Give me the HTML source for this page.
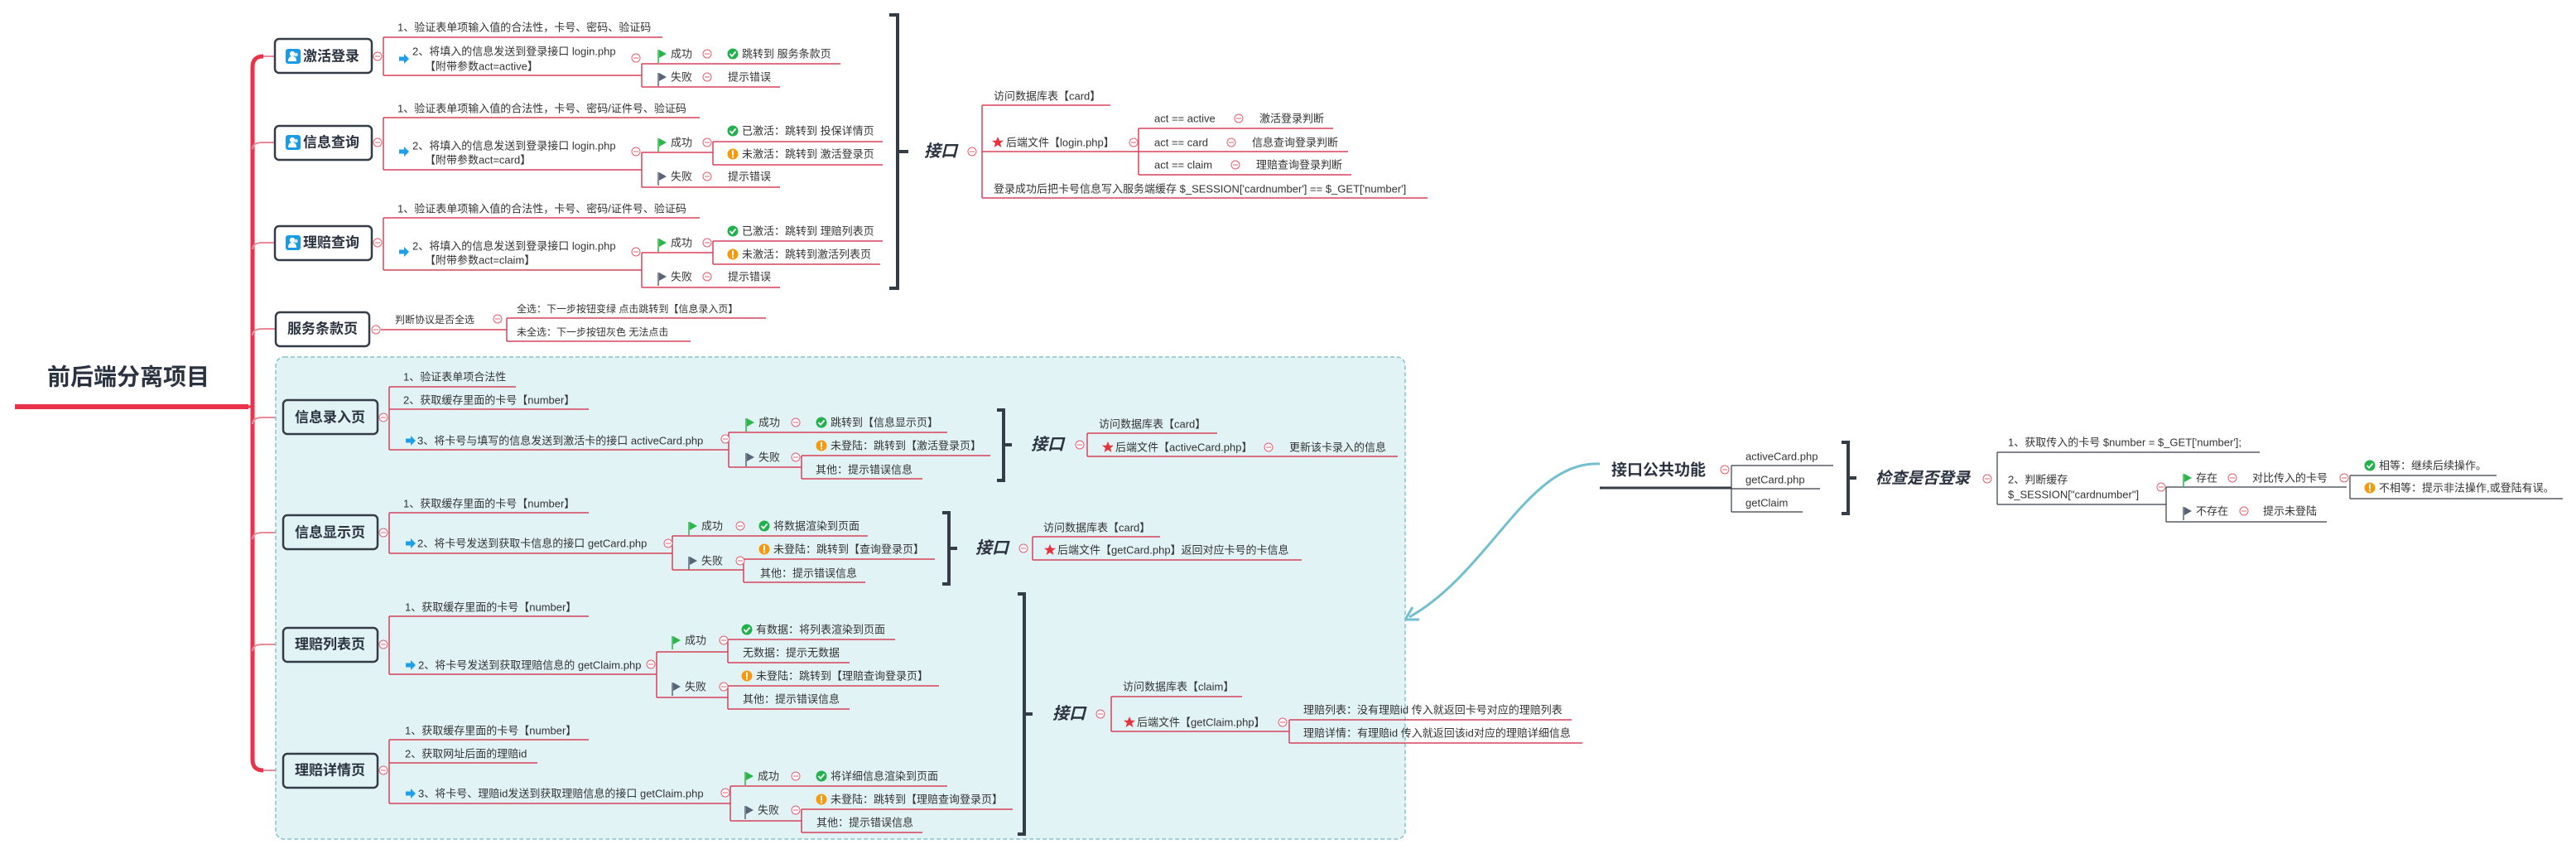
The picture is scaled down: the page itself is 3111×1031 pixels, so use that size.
<!DOCTYPE html>
<html><head><meta charset="utf-8">
<style>
html,body{margin:0;padding:0;background:#fff;}
svg{display:block;}
text{font-family:"Liberation Sans","Noto Sans CJK SC",sans-serif;fill:#333;dominant-baseline:central;}
.t{font-size:13px;}
.s{font-size:12px;}
.b{font-size:17px;font-weight:bold;fill:#2b3340;}
.jk{font-size:20px;font-weight:bold;font-style:italic;fill:#2b3340;}
.u{stroke:#d8435a;stroke-width:1.5;fill:none;}
.sp{stroke:#d8435a;stroke-width:1.5;fill:none;}
.box{fill:#fff;stroke:#343c48;stroke-width:2.5;}
.br{stroke:#343c48;stroke-width:4;fill:none;}
.c{fill:#fff;stroke:#e0606e;stroke-width:1;}
</style></head>
<body>
<svg width="3111" height="1031" viewBox="0 0 3111 1031" xmlns="http://www.w3.org/2000/svg">
<defs>
<g id="col"><circle r="5" class="c"/><path d="M-3 0H3" stroke="#e0606e" stroke-width="1"/></g>
<g id="fg"><path d="M-6 -8V8" stroke="#2cb54a" stroke-width="1.5"/><path d="M-5 -8L4 -3L-5 2Z" fill="#2cb54a"/></g>
<g id="fd"><path d="M-6 -8V8" stroke="#5a6478" stroke-width="1.5"/><path d="M-5 -8L4 -3L-5 2Z" fill="#5a6478"/></g>
<g id="ok"><circle r="6.5" fill="#22b14c"/><path d="M-3.5 0L-1 2.8L3.5 -2.5" stroke="#fff" stroke-width="1.8" fill="none"/></g>
<g id="wn"><circle r="6.5" fill="#f59a0f"/><rect x="-1" y="-4.5" width="2" height="6" fill="#fff"/><rect x="-1" y="2.5" width="2" height="2" fill="#fff"/></g>
<g id="st"><path d="M0 -7L2 -2.2L7 -2.2L3 1L4.5 6L0 3L-4.5 6L-3 1L-7 -2.2L-2 -2.2Z" fill="#e8333f"/></g>
<g id="ar"><path d="M-6 -2.5H0V-6L6 0L0 6V2.5H-6Z" fill="#1ea0e8"/></g>
<g id="pp"><rect x="-9" y="-9" width="18" height="18" rx="3" fill="#1a9be6"/><circle cx="-1" cy="-3" r="3.2" fill="#fff"/><path d="M-6 6Q-6 0 -1 0Q4 0 4 6Z" fill="#fff"/><circle cx="3.5" cy="-2" r="2.3" fill="#cfeaff"/></g>
</defs>

<!-- root -->
<text x="57" y="455" style="font-size:28px;font-weight:bold;fill:#2b3340">前后端分离项目</text>
<path d="M18 491H300" stroke="#e8334a" stroke-width="6"/>
<path d="M318 68Q305 68 305 81V917Q305 930 318 930" stroke="#e8334a" stroke-width="5" fill="none"/>
<path d="M300 491H305" stroke="#e8334a" stroke-width="3"/>
<g stroke="#ea8b97" stroke-width="2" fill="none">
<path d="M305 180Q305 172 317 172H332"/><path d="M305 301Q305 293 317 293H332"/>
<path d="M305 405Q305 397 317 397H333"/><path d="M305 512Q305 504 317 504H342"/>
<path d="M305 651Q305 643 317 643H342"/><path d="M305 786Q305 778 317 778H342"/>
<path d="M318 68H332"/><path d="M318 930H342"/>
</g>

<!-- dashed area -->
<rect x="333" y="431" width="1364" height="582" rx="10" fill="#e2f3f6" stroke="#86c2cb" stroke-width="1.5" stroke-dasharray="5,3"/>

<!-- main boxes -->
<rect class="box" x="332" y="47" width="117" height="41" rx="5"/><use href="#pp" x="354" y="68"/><text class="b" x="366" y="68">激活登录</text>
<rect class="box" x="332" y="152" width="117" height="41" rx="5"/><use href="#pp" x="354" y="172"/><text class="b" x="366" y="172">信息查询</text>
<rect class="box" x="332" y="273" width="117" height="41" rx="5"/><use href="#pp" x="354" y="293"/><text class="b" x="366" y="293">理赔查询</text>
<rect class="box" x="333" y="377" width="113" height="41" rx="5"/><text class="b" x="347" y="397">服务条款页</text>
<rect class="box" x="342" y="483" width="114" height="41" rx="5" style="fill:#e2f3f6"/><text class="b" x="356" y="504">信息录入页</text>
<rect class="box" x="342" y="622" width="114" height="41" rx="5" style="fill:#e2f3f6"/><text class="b" x="356" y="643">信息显示页</text>
<rect class="box" x="342" y="758" width="114" height="41" rx="5" style="fill:#e2f3f6"/><text class="b" x="356" y="778">理赔列表页</text>
<rect class="box" x="342" y="910" width="114" height="41" rx="5" style="fill:#e2f3f6"/><text class="b" x="356" y="930">理赔详情页</text>

<!-- 激活登录 -->
<use href="#col" x="456" y="68"/>
<path class="sp" d="M463 45V91"/>
<path class="u" d="M463 45H800M463 91H775"/>
<text class="t" x="480" y="33">1、验证表单项输入值的合法性，卡号、密码、验证码</text>
<use href="#ar" x="488" y="71"/>
<text class="t" x="498" y="62">2、将填入的信息发送到登录接口 login.php</text>
<text class="t" x="513" y="80">【附带参数act=active】</text>
<use href="#col" x="768" y="70"/>
<path class="sp" d="M775 77V105"/>
<use href="#fg" x="801" y="68"/><text class="t" x="810" y="65">成功</text><use href="#col" x="854" y="65"/>
<use href="#ok" x="885" y="65"/><text class="t" x="896" y="65">跳转到 服务条款页</text>
<path class="u" d="M775 77H1015"/>
<use href="#fd" x="801" y="96"/><text class="t" x="810" y="93">失败</text><use href="#col" x="854" y="93"/>
<text class="t" x="879" y="93">提示错误</text>
<path class="u" d="M775 105H942"/>

<!-- 信息查询 -->
<use href="#col" x="456" y="172"/>
<path class="sp" d="M463 142V205"/>
<path class="u" d="M463 142H845M463 205H775"/>
<text class="t" x="480" y="131">1、验证表单项输入值的合法性，卡号、密码/证件号、验证码</text>
<use href="#ar" x="488" y="183"/>
<text class="t" x="498" y="176">2、将填入的信息发送到登录接口 login.php</text>
<text class="t" x="513" y="193">【附带参数act=card】</text>
<use href="#col" x="768" y="183"/>
<path class="sp" d="M775 184V226M861 171V199"/>
<use href="#fg" x="801" y="175"/><text class="t" x="810" y="172">成功</text><use href="#col" x="854" y="172"/>
<path class="u" d="M775 184H861"/>
<use href="#ok" x="885" y="158"/><text class="t" x="896" y="158">已激活：跳转到 投保详情页</text>
<path class="u" d="M861 171H1066"/>
<use href="#wn" x="885" y="186"/><text class="t" x="896" y="186">未激活：跳转到 激活登录页</text>
<path class="u" d="M861 199H1066"/>
<use href="#fd" x="801" y="216"/><text class="t" x="810" y="213">失败</text><use href="#col" x="854" y="213"/>
<text class="t" x="879" y="213">提示错误</text>
<path class="u" d="M775 226H942"/>

<!-- 理赔查询 -->
<use href="#col" x="456" y="293"/>
<path class="sp" d="M463 263V326"/>
<path class="u" d="M463 263H845M463 326H775"/>
<text class="t" x="480" y="252">1、验证表单项输入值的合法性，卡号、密码/证件号、验证码</text>
<use href="#ar" x="488" y="304"/>
<text class="t" x="498" y="297">2、将填入的信息发送到登录接口 login.php</text>
<text class="t" x="513" y="314">【附带参数act=claim】</text>
<use href="#col" x="768" y="304"/>
<path class="sp" d="M775 305V347M861 291V319"/>
<use href="#fg" x="801" y="296"/><text class="t" x="810" y="293">成功</text><use href="#col" x="854" y="293"/>
<path class="u" d="M775 305H861"/>
<use href="#ok" x="885" y="279"/><text class="t" x="896" y="279">已激活：跳转到 理赔列表页</text>
<path class="u" d="M861 291H1066"/>
<use href="#wn" x="885" y="307"/><text class="t" x="896" y="307">未激活：跳转到激活列表页</text>
<path class="u" d="M861 319H1063"/>
<use href="#fd" x="801" y="337"/><text class="t" x="810" y="334">失败</text><use href="#col" x="854" y="334"/>
<text class="t" x="879" y="334">提示错误</text>
<path class="u" d="M775 347H942"/>

<!-- 接口 1 -->
<path class="br" d="M1074 18H1084V348H1074M1084 183H1097"/>
<text class="jk" x="1116" y="183">接口</text>
<use href="#col" x="1174" y="183"/>
<path class="sp" d="M1186 127V239M1375 155V211"/>
<text class="t" x="1200" y="116">访问数据库表【card】</text><path class="u" d="M1186 127H1341"/>
<use href="#st" x="1205" y="172"/><text class="t" x="1215" y="172">后端文件【login.php】</text><use href="#col" x="1369" y="172"/>
<path class="u" d="M1186 183H1375"/>
<text class="t" x="1394" y="143">act == active</text><use href="#col" x="1496" y="143"/><text class="t" x="1521" y="143">激活登录判断</text><path class="u" d="M1375 155H1610"/>
<text class="t" x="1394" y="172">act == card</text><use href="#col" x="1487" y="172"/><text class="t" x="1512" y="172">信息查询登录判断</text><path class="u" d="M1375 183H1628"/>
<text class="t" x="1394" y="199">act == claim</text><use href="#col" x="1492" y="199"/><text class="t" x="1517" y="199">理赔查询登录判断</text><path class="u" d="M1375 211H1632"/>
<text class="t" x="1200" y="228">登录成功后把卡号信息写入服务端缓存 $_SESSION['cardnumber'] == $_GET['number']</text>
<path class="u" d="M1186 239H1724"/>

<!-- 服务条款页 -->
<use href="#col" x="454" y="398"/>
<text class="s" x="477" y="386">判断协议是否全选</text><path class="u" d="M460 398H612"/>
<use href="#col" x="601" y="385"/>
<path class="sp" d="M612 384V412"/>
<text class="s" x="624" y="373">全选：下一步按钮变绿 点击跳转到【信息录入页】</text><path class="u" d="M612 384H925"/>
<text class="s" x="624" y="401">未全选：下一步按钮灰色 无法点击</text><path class="u" d="M612 412H834"/>

<!-- 信息录入页 -->
<use href="#col" x="463" y="504"/>
<path class="sp" d="M470 467V543M880 522V564M968 550V578"/>
<text class="t" x="487" y="455">1、验证表单项合法性</text><path class="u" d="M470 467H623"/>
<text class="t" x="487" y="483">2、获取缓存里面的卡号【number】</text><path class="u" d="M470 494H711"/>
<use href="#ar" x="496" y="532"/><text class="t" x="504" y="532">3、将卡号与填写的信息发送到激活卡的接口 activeCard.php</text><path class="u" d="M470 543H880"/>
<use href="#col" x="876" y="530"/>
<use href="#fg" x="907" y="513"/><text class="t" x="916" y="510">成功</text><use href="#col" x="961" y="510"/>
<use href="#ok" x="992" y="510"/><text class="t" x="1003" y="510">跳转到【信息显示页】</text><path class="u" d="M880 522H1144"/>
<use href="#fd" x="907" y="555"/><text class="t" x="916" y="552">失败</text><use href="#col" x="961" y="552"/><path class="u" d="M880 564H968"/>
<use href="#wn" x="992" y="538"/><text class="t" x="1003" y="538">未登陆：跳转到【激活登录页】</text><path class="u" d="M968 550H1196"/>
<text class="t" x="985" y="567">其他：提示错误信息</text><path class="u" d="M968 578H1114"/>
<path class="br" d="M1204 495H1212V580H1204M1212 537H1222"/>
<text class="jk" x="1245" y="537">接口</text><use href="#col" x="1304" y="537"/>
<path class="sp" d="M1313 523V551"/>
<text class="t" x="1327" y="512">访问数据库表【card】</text><path class="u" d="M1313 523H1470"/>
<use href="#st" x="1338" y="540"/><text class="t" x="1347" y="540">后端文件【activeCard.php】</text><use href="#col" x="1532" y="540"/>
<text class="t" x="1557" y="540">更新该卡录入的信息</text><path class="u" d="M1313 551H1688"/>

<!-- 信息显示页 -->
<use href="#col" x="463" y="643"/>
<path class="sp" d="M470 619V668M812 647V688M898 675V703"/>
<text class="t" x="487" y="608">1、获取缓存里面的卡号【number】</text><path class="u" d="M470 619H711"/>
<use href="#ar" x="496" y="656"/><text class="t" x="504" y="656">2、将卡号发送到获取卡信息的接口 getCard.php</text><path class="u" d="M470 668H812"/>
<use href="#col" x="807" y="656"/>
<use href="#fg" x="838" y="638"/><text class="t" x="847" y="635">成功</text><use href="#col" x="894" y="635"/>
<use href="#ok" x="923" y="635"/><text class="t" x="934" y="635">将数据渲染到页面</text><path class="u" d="M812 647H1048"/>
<use href="#fd" x="838" y="680"/><text class="t" x="847" y="677">失败</text><use href="#col" x="894" y="677"/><path class="u" d="M812 688H898"/>
<use href="#wn" x="923" y="663"/><text class="t" x="934" y="663">未登陆：跳转到【查询登录页】</text><path class="u" d="M898 675H1129"/>
<text class="t" x="918" y="692">其他：提示错误信息</text><path class="u" d="M898 703H1045"/>
<path class="br" d="M1138 619H1146V705H1138M1146 662H1156"/>
<text class="jk" x="1178" y="662">接口</text><use href="#col" x="1236" y="662"/>
<path class="sp" d="M1247 648V676"/>
<text class="t" x="1260" y="637">访问数据库表【card】</text><path class="u" d="M1247 648H1401"/>
<use href="#st" x="1268" y="664"/><text class="t" x="1277" y="664">后端文件【getCard.php】返回对应卡号的卡信息</text><path class="u" d="M1247 676H1572"/>

<!-- 理赔列表页 -->
<use href="#col" x="463" y="778"/>
<path class="sp" d="M470 744V814M793 787V842M879 772V800M879 828V856"/>
<text class="t" x="489" y="733">1、获取缓存里面的卡号【number】</text><path class="u" d="M470 744H711"/>
<use href="#ar" x="496" y="803"/><text class="t" x="505" y="803">2、将卡号发送到获取理赔信息的 getClaim.php</text><path class="u" d="M470 814H793"/>
<use href="#col" x="786" y="802"/>
<use href="#fg" x="818" y="776"/><text class="t" x="827" y="773">成功</text><use href="#col" x="874" y="773"/><path class="u" d="M793 787H879"/>
<use href="#ok" x="902" y="760"/><text class="t" x="913" y="760">有数据：将列表渲染到页面</text><path class="u" d="M879 772H1081"/>
<text class="t" x="897" y="788">无数据：提示无数据</text><path class="u" d="M879 800H1026"/>
<use href="#fd" x="818" y="832"/><text class="t" x="827" y="829">失败</text><use href="#col" x="874" y="829"/><path class="u" d="M793 842H879"/>
<use href="#wn" x="902" y="816"/><text class="t" x="913" y="816">未登陆：跳转到【理赔查询登录页】</text><path class="u" d="M879 828H1134"/>
<text class="t" x="897" y="844">其他：提示错误信息</text><path class="u" d="M879 856H1026"/>

<!-- 理赔详情页 -->
<use href="#col" x="463" y="930"/>
<path class="sp" d="M470 893V970M882 949V991M968 977V1005"/>
<text class="t" x="489" y="882">1、获取缓存里面的卡号【number】</text><path class="u" d="M470 893H711"/>
<text class="t" x="489" y="910">2、获取网址后面的理赔id</text><path class="u" d="M470 921H649"/>
<use href="#ar" x="496" y="958"/><text class="t" x="505" y="958">3、将卡号、理赔id发送到获取理赔信息的接口 getClaim.php</text><path class="u" d="M470 970H882"/>
<use href="#col" x="876" y="957"/>
<use href="#fg" x="906" y="940"/><text class="t" x="915" y="937">成功</text><use href="#col" x="961" y="937"/>
<use href="#ok" x="992" y="937"/><text class="t" x="1003" y="937">将详细信息渲染到页面</text><path class="u" d="M882 949H1144"/>
<use href="#fd" x="906" y="981"/><text class="t" x="915" y="978">失败</text><use href="#col" x="961" y="978"/><path class="u" d="M882 991H968"/>
<use href="#wn" x="992" y="965"/><text class="t" x="1003" y="965">未登陆：跳转到【理赔查询登录页】</text><path class="u" d="M968 977H1223"/>
<text class="t" x="986" y="993">其他：提示错误信息</text><path class="u" d="M968 1005H1114"/>

<!-- 接口 4 -->
<path class="br" d="M1229 717H1237V1007H1229M1237 862H1247"/>
<text class="jk" x="1271" y="862">接口</text><use href="#col" x="1329" y="862"/>
<path class="sp" d="M1342 841V883M1557 869V897"/>
<text class="t" x="1356" y="829">访问数据库表【claim】</text><path class="u" d="M1342 841H1500"/>
<use href="#st" x="1364" y="872"/><text class="t" x="1373" y="872">后端文件【getClaim.php】</text><use href="#col" x="1549" y="872"/><path class="u" d="M1342 883H1557"/>
<text class="t" x="1574" y="857">理赔列表：没有理赔id 传入就返回卡号对应的理赔列表</text><path class="u" d="M1557 869H1898"/>
<text class="t" x="1574" y="885">理赔详情：有理赔id 传入就返回该id对应的理赔详细信息</text><path class="u" d="M1557 897H1911"/>

<!-- 接口公共功能 -->
<path d="M1932 560C1845 556 1800 690 1702 745" stroke="#72c0cf" stroke-width="3" fill="none"/>
<path d="M1697 748L1706 733M1697 748L1714 748" stroke="#72c0cf" stroke-width="3" fill="none"/>
<text x="1946" y="568" style="font-size:19px;font-weight:bold;fill:#2b3340">接口公共功能</text>
<path d="M1932 589H2091" stroke="#343c48" stroke-width="3"/>
<use href="#col" x="2083" y="567"/>
<path d="M2091 562V618" stroke="#343c48" stroke-width="1.2"/>
<g stroke="#343c48" stroke-width="1.2"><path d="M2091 562H2214M2091 590H2198M2091 618H2177"/></g>
<text class="t" x="2108" y="551">activeCard.php</text>
<text class="t" x="2108" y="579">getCard.php</text>
<text class="t" x="2108" y="607">getClaim</text>
<path class="br" d="M2224 534H2232V620H2224M2232 577H2242"/>
<text x="2265" y="578" style="font-size:19px;font-weight:bold;font-style:italic;fill:#2b3340">检查是否登录</text>
<use href="#col" x="2400" y="578"/>
<g stroke="#343c48" stroke-width="1.2" fill="none">
<path d="M2412 546V609M2616 588V630M2838 574V602"/>
<path d="M2412 546H2729M2412 609H2616M2616 588H2834M2616 630H2810M2838 574H3015M2838 602H3095"/>
</g>
<text class="t" x="2425" y="534">1、获取传入的卡号 $number = $_GET['number'];</text>
<text class="t" x="2425" y="579">2、判断缓存</text>
<text class="t" x="2425" y="597">$_SESSION["cardnumber"]</text>
<use href="#col" x="2610" y="588"/>
<use href="#fg" x="2643" y="580"/><text class="t" x="2652" y="577">存在</text><use href="#col" x="2696" y="577"/>
<text class="t" x="2720" y="577">对比传入的卡号</text><use href="#col" x="2831" y="577"/>
<use href="#ok" x="2862" y="562"/><text class="t" x="2873" y="562">相等：继续后续操作。</text>
<use href="#wn" x="2862" y="589"/><text class="t" x="2873" y="589">不相等：提示非法操作,或登陆有误。</text>
<use href="#fd" x="2643" y="620"/><text class="t" x="2652" y="617">不存在</text><use href="#col" x="2710" y="617"/>
<text class="t" x="2733" y="617">提示未登陆</text>
</svg>
</body></html>
